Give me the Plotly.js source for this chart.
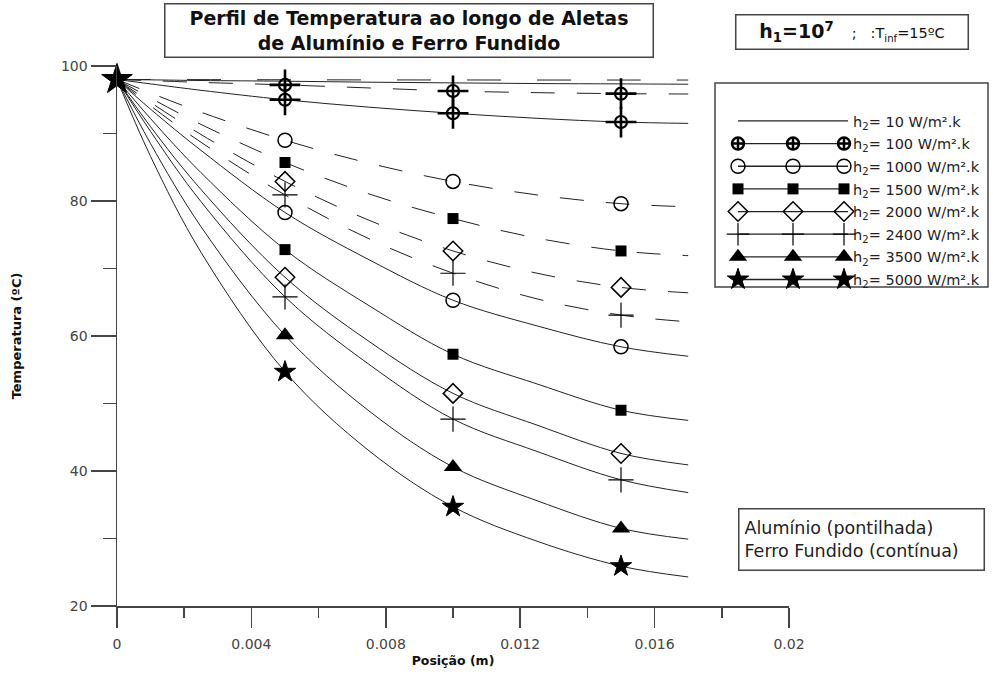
<!DOCTYPE html>
<html><head><meta charset="utf-8">
<script src="https://cdn.plot.ly/plotly-3.0.1.min.js"></script>
<style>html,body{margin:0;padding:0;background:#fff}#chart{width:993px;height:675px}</style>
</head><body><div id="chart"></div>
<script>
// ---------- data ----------
const positions = [0, 0.001, 0.0025, 0.005, 0.0075, 0.01, 0.0125, 0.015, 0.017];
const h2Values = [10, 100, 1000, 1500, 2000, 2400, 3500, 5000];
const legendLabels = ['h<sub>2</sub>= 10 W/m².k', 'h<sub>2</sub>= 100 W/m².k', 'h<sub>2</sub>= 1000 W/m².k',
  'h<sub>2</sub>= 1500 W/m².k', 'h<sub>2</sub>= 2000 W/m².k', 'h<sub>2</sub>= 2400 W/m².k',
  'h<sub>2</sub>= 3500 W/m².k', 'h<sub>2</sub>= 5000 W/m².k'];

// Alumínio (dashed)
const al10   = [98, 98, 97.98, 97.96, 97.94, 97.93, 97.92, 97.92, 97.92];
const al100  = [98, 97.83, 97.57, 97.2, 96.75, 96.3, 96.05, 95.9, 95.85];
const al1000 = [98, 96.0, 93.15, 89.0, 85.6, 82.9, 80.9, 79.6, 79.15];
const al1500 = [98, 95.25, 91.35, 85.7, 81.05, 77.4, 74.5, 72.6, 71.9];
const al2000 = [98, 94.6, 89.85, 82.9, 77.15, 72.6, 69.3, 67.2, 66.4];
const al2400 = [98, 94.1, 88.7, 80.9, 74.4, 69.3, 65.5, 63.1, 62.1];

// Ferro Fundido (solid)
const fe10   = [98, 97.95, 97.85, 97.75, 97.6, 97.5, 97.4, 97.35, 97.3];
const fe100  = [98, 97.35, 96.4, 95.0, 93.9, 93.0, 92.25, 91.7, 91.5];
const fe1000 = [98, 93.6, 87.5, 78.3, 71.3, 65.3, 61.5, 58.4, 57.0];
const fe1500 = [98, 92.2, 84.2, 72.8, 64.5, 57.3, 52.9, 49.0, 47.5];
const fe2000 = [98, 91.0, 81.7, 68.7, 59.2, 51.5, 46.8, 42.6, 40.9];
const fe2400 = [98, 90.3, 79.9, 65.8, 55.8, 47.7, 42.9, 38.7, 36.8];
const fe3500 = [98, 88.5, 76.2, 60.1, 48.9, 40.6, 35.6, 31.5, 29.9];
const fe5000 = [98, 86.6, 72.4, 54.7, 43.0, 34.7, 29.6, 25.9, 24.3];

const alSeries = [al10, al100, al1000, al1500, al2000, al2400, null, null];
const feSeries = [fe10, fe100, fe1000, fe1500, fe2000, fe2400, fe3500, fe5000];
const markerIdx = [3, 5, 7];   // indices of x = 0.005, 0.010, 0.015

// ---------- styling ----------
const FONT = 'DejaVu Sans, Verdana, sans-serif';
const INK = '#222';
const MK = '#000';
const M = {l: 117, r: 204, t: 66, b: 69, autoexpand: false};
const W = 993, H = 675;
const PW = W - M.l - M.r, PH = H - M.t - M.b;
const px = v => (v - M.l) / PW;
const py = v => (H - M.b - v) / PH;

const styles = [
  null,
  {sym: 'circle-open', size: 12, lw: 2.2},
  {sym: 'circle-open', size: 14, lw: 1.5},
  {sym: 'square', size: 11, lw: 0},
  {sym: 'diamond-open', size: 15, lw: 1.5},
  {sym: 'cross-thin-open', size: 18, lw: 1.2},
  {sym: 'triangle-up', size: 16, lw: 0},
  {sym: 'star', size: 16, lw: 1}
];

const pick = arr => markerIdx.map(i => arr[i]);
const traces = [];

h2Values.forEach((h, i) => {
  const al = alSeries[i], fe = feSeries[i];
  if (al) traces.push({x: positions, y: al, mode: 'lines', showlegend: false, hoverinfo: 'skip',
    line: {color: INK, width: 1, shape: 'spline', smoothing: 1, dash: i === 0 ? '34px,36px' : '24px,22px'}});
  traces.push({x: positions, y: fe, mode: 'lines', showlegend: false, hoverinfo: 'skip',
    line: {color: INK, width: 1, shape: 'spline', smoothing: 1}});
});

h2Values.forEach((h, i) => {
  const st = styles[i];
  if (!st) return;
  [alSeries[i], feSeries[i]].forEach(arr => {
    if (!arr) return;
    const xs = pick(positions), ys = pick(arr);
    if (i === 1) {
      traces.push({x: xs, y: ys, mode: 'markers', showlegend: false, hoverinfo: 'skip',
        marker: {symbol: 'cross-thin-open', size: 22, color: MK, opacity: 1, line: {color: MK, width: 2.6}}});
    }
    const isStar = (i === 7);
    traces.push({
      x: isStar ? [positions[0]].concat(xs) : xs,
      y: isStar ? [arr[0]].concat(ys) : ys,
      mode: 'markers', showlegend: false, hoverinfo: 'skip', cliponaxis: false,
      marker: {symbol: st.sym, size: isStar ? [23, st.size, st.size, st.size] : st.size, opacity: 1,
               color: MK, line: {color: MK, width: st.lw}}
    });
  });
});

// legend entries (main legend: line + centre marker; legend2/3: end markers)
const blankMarker = {symbol: 'circle', size: 2, color: 'rgba(0,0,0,0)', line: {width: 0, color: 'rgba(0,0,0,0)'}};
const legMarker = st => st ? {symbol: st.sym === 'circle-open' && st.lw > 2 ? 'circle-cross-open' : st.sym,
  size: st.size, color: MK, opacity: 1, line: {color: MK, width: st.lw > 2 ? 2.5 : st.lw}} : blankMarker;
h2Values.forEach((h, i) => {
  const st = styles[i];
  const main = {x: [null], y: [null], name: legendLabels[i], legend: 'legend', legendgroup: 'g' + i,
    mode: st ? 'lines+markers' : 'lines', line: {color: INK, width: 1.3}};
  if (st) main.marker = legMarker(st);
  traces.push(main);
  ['legend2', 'legend3'].forEach(lg => {
    traces.push({x: [null], y: [null], name: ' ', legend: lg, legendgroup: lg + i, mode: 'markers',
      marker: legMarker(st)});
  });
});

const legendBase = {yanchor: 'top', y: py(105), xanchor: 'left', bgcolor: 'rgba(0,0,0,0)',
  borderwidth: 0, font: {family: FONT, size: 14.5, color: '#222'}, traceorder: 'grouped',
  tracegroupgap: 0.8, itemclick: false, itemdoubleclick: false};

const axisFont = {family: FONT, size: 14, color: '#444'};
const layout = {
  width: W, height: H, margin: M,
  paper_bgcolor: '#fff', plot_bgcolor: '#fff',
  showlegend: true,
  xaxis: {range: [0, 0.02], tick0: 0, dtick: 0.004, ticks: 'outside', ticklen: 20, tickwidth: 1.5,
    tickcolor: '#444', showline: true, linecolor: '#444', linewidth: 1.5, showgrid: false, zeroline: false,
    tickfont: axisFont, ticklabelstandoff: 5,
    minor: {ticks: 'outside', dtick: 0.002, ticklen: 10, tickwidth: 1.5, tickcolor: '#444', showgrid: false},
    title: {text: '<b>Posição (m)</b>', font: {family: FONT, size: 12.5, color: '#111'}, standoff: 5}},
  yaxis: {range: [20, 100], tick0: 20, dtick: 20, ticks: 'outside', ticklen: 25, tickwidth: 1.5,
    tickcolor: '#444', showline: true, linecolor: '#444', linewidth: 1.5, showgrid: false, zeroline: false,
    tickfont: axisFont,
    minor: {ticks: 'outside', dtick: 10, ticklen: 13, tickwidth: 1.5, tickcolor: '#444', showgrid: false},
    title: {text: '<b>Temperatura (ºC)</b>', font: {family: FONT, size: 13, color: '#111'}, standoff: 36}},
  legend: Object.assign({}, legendBase, {x: px(733), itemwidth: 110}),
  legend2: Object.assign({}, legendBase, {x: px(718), itemwidth: 30}),
  legend3: Object.assign({}, legendBase, {x: px(824), itemwidth: 30}),
  shapes: [{type: 'rect', xref: 'paper', yref: 'paper', x0: px(715), x1: px(988), y0: py(287), y1: py(83),
    line: {color: '#444', width: 1.5}}],
  annotations: [
    {xref: 'paper', yref: 'paper', x: px(408.5), y: py(31), xanchor: 'center', yanchor: 'middle',
     showarrow: false, text: '<b>Perfil de Temperatura ao longo de Aletas<br>de Alumínio e Ferro Fundido</b>',
     font: {family: FONT, size: 19, color: '#111'}, width: 485, height: 50, borderpad: 1,
     bordercolor: '#444', borderwidth: 1.5, bgcolor: '#fff'},
    {xref: 'paper', yref: 'paper', x: px(851.5), y: py(31.5), xanchor: 'center', yanchor: 'middle',
     showarrow: false,
     text: '<b>h<sub>1</sub>=10<sup>7</sup></b>   <span style="font-size:14.5px">;   :T<sub>inf</sub>=15ºC</span>',
     font: {family: FONT, size: 19, color: '#111'}, width: 229, height: 31, borderpad: 1,
     bordercolor: '#444', borderwidth: 1.5, bgcolor: '#fff'},
    {xref: 'paper', yref: 'paper', x: px(861), y: py(539), xanchor: 'center', yanchor: 'middle',
     showarrow: false, align: 'left',
     text: 'Alumínio (pontilhada)<br>Ferro Fundido (contínua)',
     font: {family: FONT, size: 17.5, color: '#222'}, width: 234, height: 50, borderpad: 5,
     bordercolor: '#444', borderwidth: 1.5, bgcolor: '#fff'}
  ]
};

Plotly.newPlot('chart', traces, layout, {displayModeBar: false, staticPlot: true});
</script>
</body></html>
